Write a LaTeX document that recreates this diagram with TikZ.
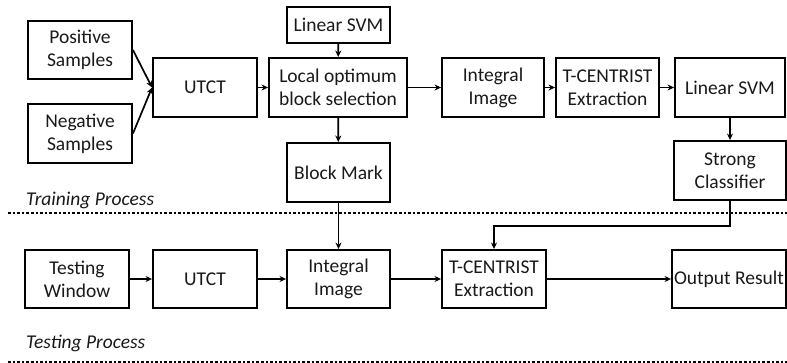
\documentclass[tikz,border=0pt]{standalone}
\usepackage{fontspec}
\setmainfont{Carlito}
\usetikzlibrary{arrows.meta}
\begin{document}
\begin{tikzpicture}[x=1pt,y=-1pt,
  box/.style={draw=black,line width=1.9pt,inner sep=0pt,align=center,
    font=\fontsize{19.5}{23}\selectfont,text=black!90},
  arr/.style={line width=1.7pt,-{Stealth[length=6.5pt,width=6pt]}},
  sep/.style={line width=1.6pt,dash pattern=on 2.6pt off 2pt},
  lbl/.style={anchor=west,inner sep=0pt,font=\fontsize{19.5}{23}\selectfont\itshape,text=black!90}]
\useasboundingbox (0,0) rectangle (787,363);
\node[box,minimum width=104pt,minimum height=58pt] (pos) at (80,50) {Positive\\Samples};
\node[box,minimum width=104pt,minimum height=59pt] (neg) at (80,133.5) {Negative\\Samples};
\node[box,minimum width=104pt,minimum height=59pt] (utct) at (205,87.5) {UTCT};
\node[box,minimum width=103pt,minimum height=36pt] (svma) at (338.5,25) {Linear SVM};
\node[box,minimum width=138pt,minimum height=59pt] (local) at (338,87.5) {Local optimum\\block selection};
\node[box,minimum width=103pt,minimum height=59pt] (bmark) at (338.5,172.5) {Block Mark};
\node[box,minimum width=102pt,minimum height=59pt] (intA) at (493,87.5) {Integral\\Image};
\node[box,minimum width=103pt,minimum height=59pt] (tcA) at (607.5,87.5) {T-CENTRIST\\Extraction};
\node[box,minimum width=110pt,minimum height=59pt] (svmb) at (730,87.5) {Linear SVM};
\node[box,minimum width=112pt,minimum height=59pt] (strong) at (730,170.5) {Strong\\Classifier};
\node[box,minimum width=104pt,minimum height=58pt] (testw) at (77,279) {Testing\\Window};
\node[box,minimum width=104pt,minimum height=58pt] (utctB) at (205,279) {UTCT};
\node[box,minimum width=103pt,minimum height=58pt] (intB) at (338.5,279) {Integral\\Image};
\node[box,minimum width=104pt,minimum height=58pt] (tcB) at (494,279) {T-CENTRIST\\Extraction};
\node[box,minimum width=114pt,minimum height=58pt] (out) at (729,279) {Output Result};
\node[lbl] (train) at (26,200) {Training Process};
\node[lbl] (test) at (26,343) {Testing Process};
\coordinate (s1a) at (8,213);
\coordinate (s1b) at (787,213);
\coordinate (s2a) at (8,362);
\coordinate (s2b) at (787,362);
\draw[sep] (s1a) -- (s1b);
\draw[sep] (s2a) -- (s2b);
\draw[arr] (pos.east) -- (utct.west);
\draw[arr] (neg.east) -- (utct.west);
\draw[arr] (utct) -- (local);
\draw[arr] (svma) -- (local);
\draw[arr] (local) -- (bmark);
\draw[arr] (local) -- (intA);
\draw[arr] (intA) -- (tcA);
\draw[arr] (tcA) -- (svmb);
\draw[arr] (svmb) -- (strong);
\draw[arr] (bmark) -- (intB);
\draw[arr] (testw) -- (utctB);
\draw[arr] (utctB) -- (intB);
\draw[arr] (intB) -- (tcB);
\draw[arr] (tcB) -- (out);
\coordinate (bend) at (730,226);
\draw[arr] (strong.south) -- (bend) -| (tcB.north);
\end{tikzpicture}
\end{document}
